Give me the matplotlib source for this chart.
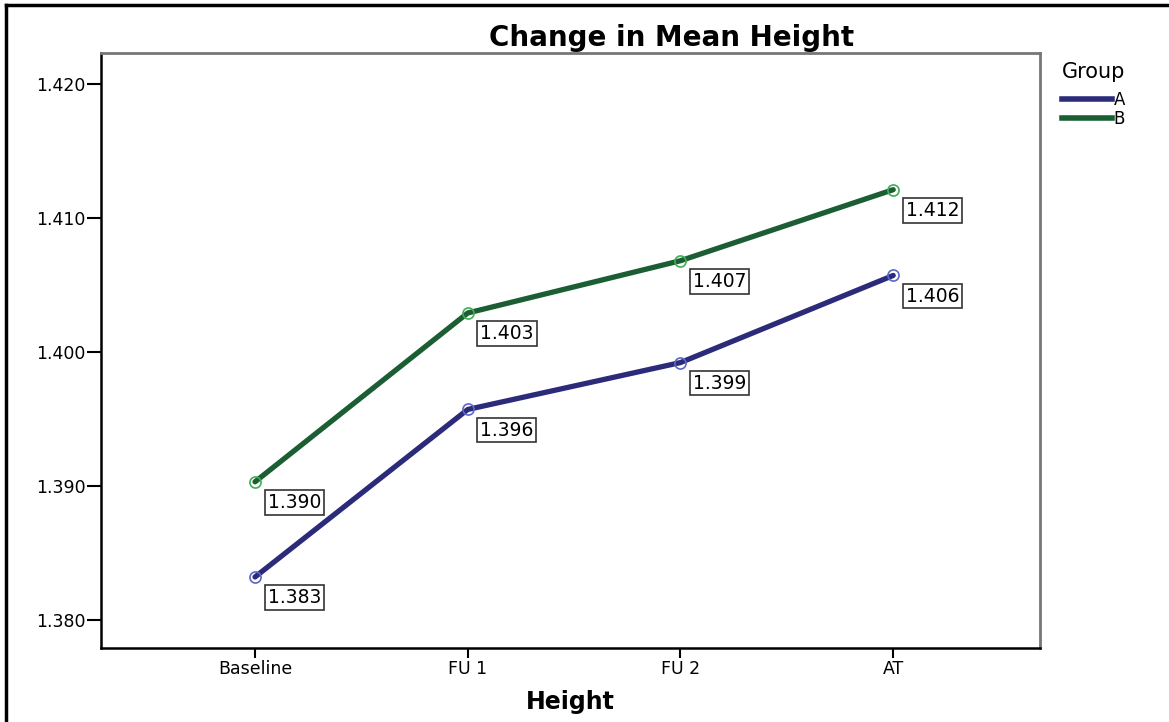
import matplotlib
matplotlib.use("Agg")
import matplotlib.pyplot as plt
from matplotlib.lines import Line2D

# Data
timepoints = ["Baseline", "FU 1", "FU 2", "AT"]
group_a = [1.3832, 1.3957, 1.3992, 1.4057]
group_b = [1.3903, 1.4029, 1.4068, 1.4121]
y_ticks = [1.380, 1.390, 1.400, 1.410, 1.420]

col_a, mk_a = "#2b2b7a", "#5c68c8"
col_b, mk_b = "#1c5e33", "#3fae55"

plt.rcParams["font.family"] = ["DejaVu Sans"]

fig = plt.figure(figsize=(11.69, 7.22), dpi=100)
ax = fig.add_axes([101 / 1169, 1 - 648 / 722, 939 / 1169, 595 / 722])

x = list(range(len(timepoints)))
for vals, col, mk in [(group_a, col_a, mk_a), (group_b, col_b, mk_b)]:
    ax.plot(x, vals, color=col, lw=3.8, solid_capstyle="round", zorder=2)
    ax.plot(x, vals, ls="none", marker="o", ms=8, mfc="none", mec=mk, mew=1.2, zorder=3)
    for xi, v in zip(x, vals):
        ax.annotate(f"{v:.3f}", (xi, v), xytext=(9, -8), textcoords="offset points",
                    ha="left", va="top", fontsize=13.5,
                    bbox=dict(boxstyle="square,pad=0.15", fc="white", ec="#333333", lw=1.2))

ax.set_xlim(-0.724, 3.69)
ax.set_ylim(1.3779, 1.4223)
ax.set_xticks(x)
ax.set_xticklabels(timepoints, fontsize=12.5)
ax.set_yticks(y_ticks)
ax.set_yticklabels([f"{t:.3f}" for t in y_ticks], fontsize=12.5)
ax.tick_params(axis="y", length=10, width=1.5, pad=1)
ax.tick_params(axis="x", length=7, width=1.5, pad=2)

for s in ["left", "bottom"]:
    ax.spines[s].set_linewidth(1.8)
    ax.spines[s].set_color("black")
for s in ["top", "right"]:
    ax.spines[s].set_linewidth(2)
    ax.spines[s].set_color("#777777")

ax.set_xlabel("Height", fontsize=17, fontweight="bold", labelpad=8)
fig.text(672 / 1169, 1 - 38 / 722, "Change in Mean Height", ha="center", va="center",
         fontsize=20, fontweight="bold")

# legend
fig.text(1062 / 1169, 1 - 72 / 722, "Group", ha="left", va="center", fontsize=15)
handles = [Line2D([], [], color=col_a, lw=4), Line2D([], [], color=col_b, lw=4)]
fig.legend(handles, ["A", "B"], loc="upper left",
           bbox_to_anchor=(1062 / 1169, 1 - 91 / 722), frameon=False,
           fontsize=12, handlelength=3.0, handletextpad=0.1,
           labelspacing=0.05, borderaxespad=0, borderpad=0)

# outer frame (top and left only)
fig.add_artist(Line2D([6 / 1169, 1], [1 - 5 / 722, 1 - 5 / 722], color="black", lw=2.5,
                      transform=fig.transFigure))
fig.add_artist(Line2D([6 / 1169, 6 / 1169], [0, 1 - 5 / 722], color="black", lw=2.5,
                      transform=fig.transFigure))

fig.savefig("out.png", dpi=100)
